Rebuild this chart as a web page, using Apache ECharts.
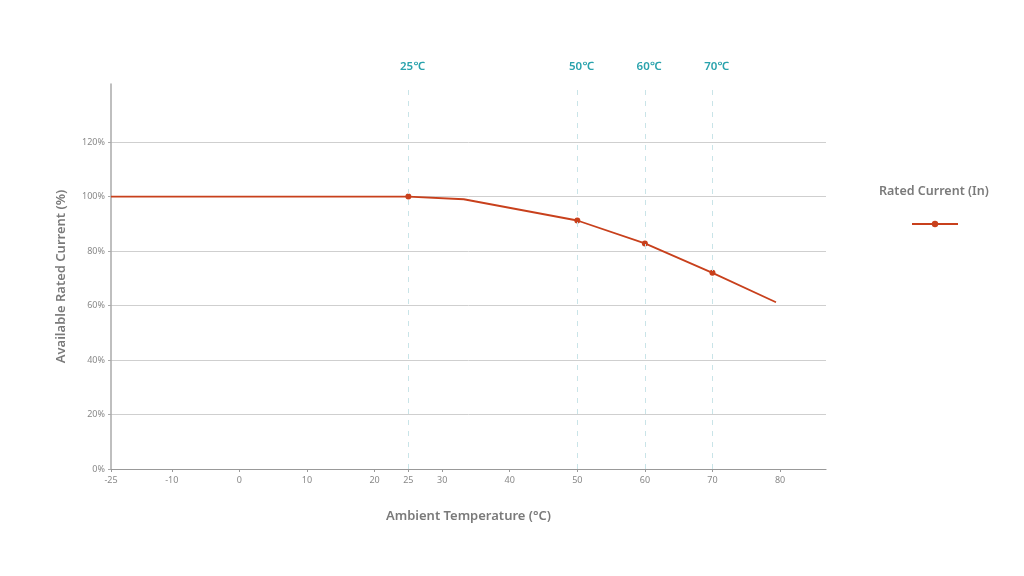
<!DOCTYPE html>
<html>
<head>
<meta charset="utf-8">
<style>
  html, body { margin: 0; padding: 0; background: #fff; }
  #chart { width: 1024px; height: 576px; }
</style>
<script src="https://cdn.jsdelivr.net/npm/echarts@6/dist/echarts.min.js"></script>
</head>
<body>
<div id="chart"></div>
<script>
// data
const seriesName = 'Rated Current (In)'
const temps = [-19, 25, 33.2, 50, 60, 70, 79.4]
const currents = [100, 100, 99, 91.2, 82.8, 72, 61.2]
const markedTemps = [25, 50, 60, 70] // points drawn with a dot
const refTemps = [25, 50, 60, 70] // dashed reference lines

// x axis starts at -19 on the scale but is labelled -25
const xTickValues = [-19, -10, 0, 10, 20, 25, 30, 40, 50, 60, 70, 80]
const xTickLabels = ['-25', '-10', '0', '10', '20', '25', '30', '40', '50', '60', '70', '80']
const yTickValues = [0, 20, 40, 60, 80, 100, 120]

const grey = '#7a7a7a'
const lineColor = '#c8401c'
const teal = '#2aa3ad'

const chart = echarts.init(document.getElementById('chart'))

const option = {
  animation: false,
  textStyle: { fontFamily: 'Noto Sans' },
  title: {
    text: seriesName,
    left: 874,
    top: 180,
    textStyle: { color: grey, fontSize: 12.5, fontWeight: 600 }
  },
  legend: {
    left: 906,
    top: 215,
    itemWidth: 46,
    itemHeight: 8,
    formatter: () => '',
    data: [seriesName]
  },
  grid: { left: 111, right: 198, top: 84, bottom: 107 },
  xAxis: {
    type: 'value',
    min: -19,
    max: 86.8,
    name: 'Ambient Temperature (°C)',
    nameLocation: 'middle',
    nameGap: 41,
    nameTextStyle: { color: grey, fontSize: 13, fontWeight: 600 },
    axisLine: { onZero: false, lineStyle: { color: '#999', width: 1.2 } },
    axisTick: { show: true, length: 3, customValues: xTickValues, lineStyle: { color: '#999' } },
    axisLabel: {
      customValues: xTickValues,
      color: '#888',
      fontSize: 9,
      margin: 7,
      formatter: v => xTickLabels[xTickValues.indexOf(v)]
    },
    splitLine: { show: false }
  },
  yAxis: {
    type: 'value',
    min: 0,
    max: 141.3,
    name: 'Available Rated Current (%)',
    nameLocation: 'middle',
    nameGap: 43,
    nameTextStyle: { color: grey, fontSize: 13, fontWeight: 600 },
    axisLine: { show: true, onZero: false, lineStyle: { color: '#aaa', width: 1.5 } },
    axisTick: { show: true, length: 3, customValues: yTickValues, lineStyle: { color: '#aaa' } },
    axisLabel: {
      customValues: yTickValues,
      color: '#888',
      fontSize: 9,
      margin: 6,
      formatter: v => v + '%'
    },
    splitLine: { show: true, lineStyle: { color: '#cfcfcf', width: 1 } }
  },
  series: [
    {
      name: seriesName,
      type: 'line',
      color: lineColor,
      symbol: 'circle',
      symbolSize: 6,
      showAllSymbol: true,
      lineStyle: { width: 1.8, color: lineColor },
      itemStyle: { color: lineColor },
      data: temps.map((t, i) => ({
        value: [t, currents[i]],
        symbolSize: markedTemps.includes(t) ? 6 : 0
      })),
      markLine: {
        silent: true,
        symbol: 'none',
        lineStyle: { type: [5, 6], color: '#c9e4e8', width: 1 },
        label: {
          position: 'end',
          distance: 11,
          offset: [4, 0],
          color: teal,
          fontSize: 11.5,
          fontWeight: 600,
          formatter: p => p.value + '℃'
        },
        data: refTemps.map(t => ({ xAxis: t }))
      }
    }
  ]
}

chart.setOption(option)
</script>
</body>
</html>
